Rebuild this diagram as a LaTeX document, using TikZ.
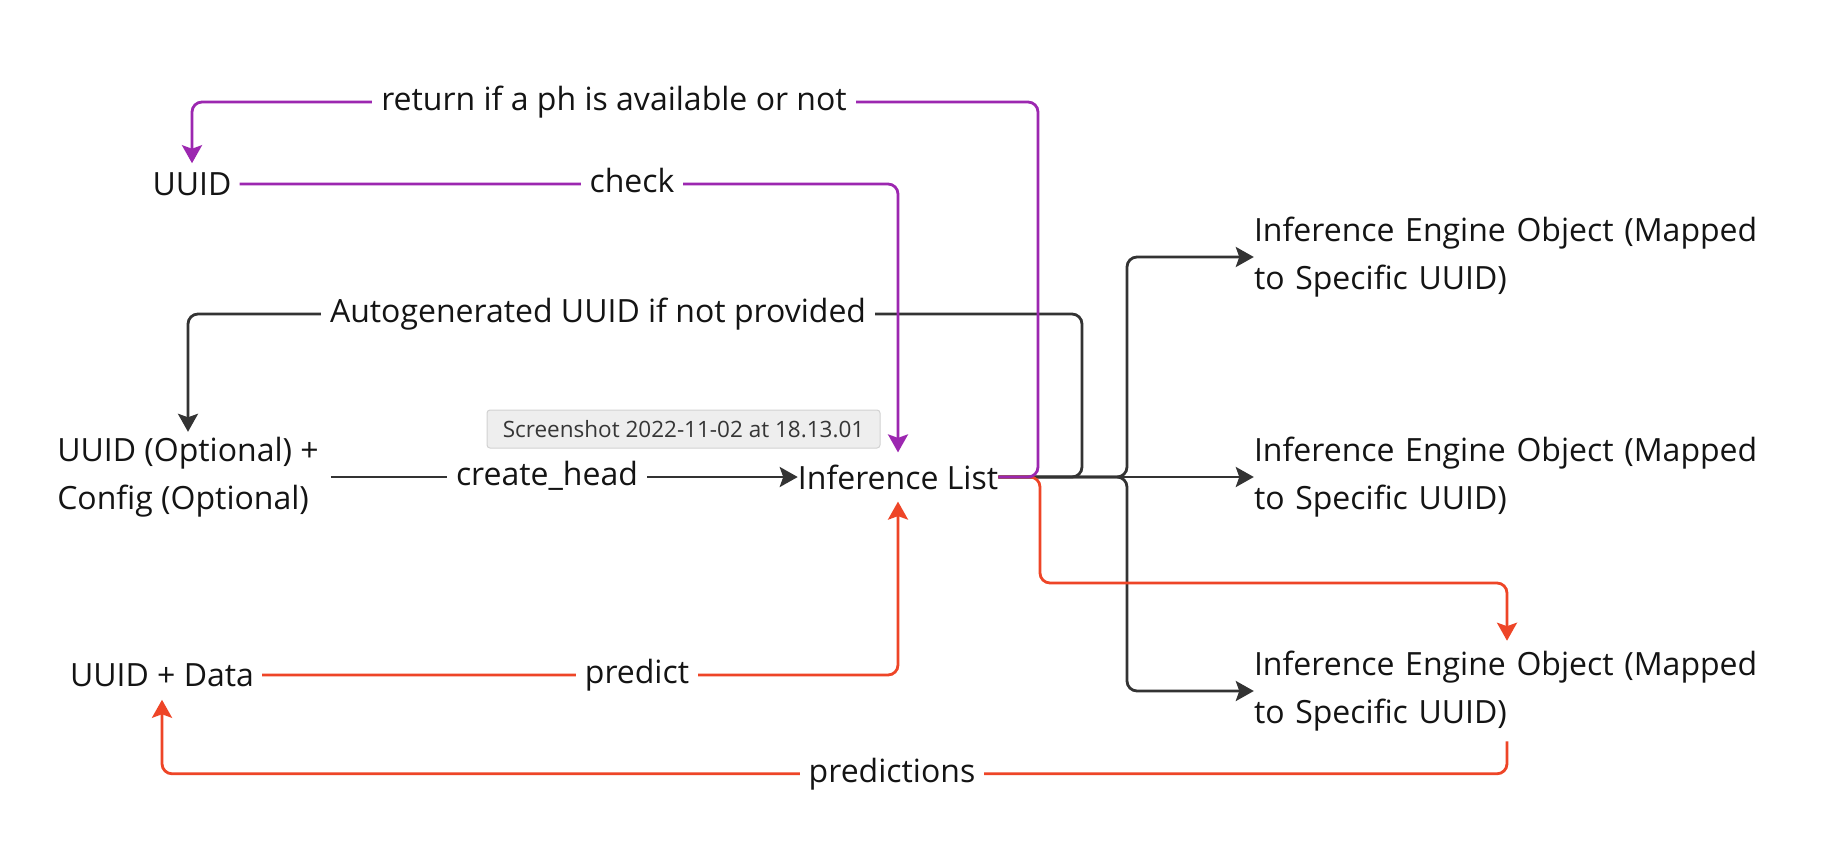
\documentclass[tikz,border=0pt]{standalone}
\usepackage{fontspec}
\setmainfont{Open Sans}
\usetikzlibrary{arrows.meta,calc}
\definecolor{purp}{HTML}{9C27B0}
\definecolor{redo}{HTML}{EE4527}
\definecolor{dark}{HTML}{333333}
\definecolor{txtc}{HTML}{141414}
\definecolor{tipfill}{HTML}{EEEEEE}
\definecolor{tipdraw}{HTML}{D2D2D2}
\definecolor{tiptext}{HTML}{363636}
\begin{document}
\begin{tikzpicture}[x=1pt,y=-1pt,
  every node/.style={font=\fontsize{32}{48}\selectfont, text=txtc},
  lbl/.style={fill=white, inner xsep=9pt, inner ysep=1pt, text height=24pt, text depth=8pt},
  conn/.style={line width=2.8pt, rounded corners=10pt, -{Stealth[length=18pt,width=20pt,inset=3.5pt]}},
  engine/.style={text width=506pt, align=left, inner xsep=0pt, inner ysep=10pt},
  tipbox/.style={font=\fontsize{22.5}{26}\selectfont, text=tiptext, fill=tipfill, draw=tipdraw, line width=1pt,
    rounded corners=3pt, minimum width=393pt, minimum height=38pt, inner sep=0pt}
]
\useasboundingbox (0,0) rectangle (1824,852);
\fill[white] (0,0) rectangle (1824,852);

% nodes
\node[inner xsep=8pt, inner ysep=9pt] (uuid) at (192,184) {UUID};
\node[inner xsep=12pt, inner ysep=5pt, align=left] (cfg) at (188,477) {UUID (Optional) +\\Config (Optional)};
\node[inner xsep=0pt, inner ysep=12pt] (il) at (898,477) {Inference List};
\node[inner xsep=8pt, inner ysep=13pt] (data) at (162,675) {UUID + Data};
\node[engine] (eng1) at (1507,257) {Inference Engine Object (Mapped to Specific UUID)};
\node[engine] (eng2) at (1507,477) {Inference Engine Object (Mapped to Specific UUID)};
\node[engine] (eng3) at (1507,691) {Inference Engine Object (Mapped to Specific UUID)};

% waypoints
\coordinate (agtop) at (1082,314);
\coordinate (brx) at (1127,477);
\coordinate (rtop) at (1038,102);
\coordinate (rdown) at (1040,583);

% black connectors
\draw[conn, dark] (il.east) -| (agtop) -| (cfg.north);
\draw[conn, dark] (cfg.east) -- (cfg.east -| il.west);
\draw[conn, dark] (il.east) -- (brx) |- (eng1.west);
\draw[conn, dark] (il.east) -- (eng2.west);
\draw[conn, dark] (il.east) -- (brx) |- (eng3.west);

% red connectors
\draw[conn, redo] (il.east) -| (rdown) -| (eng3.north);
\draw[conn, redo] (data.east) -| (il.south);
\draw[conn, redo] (eng3.south) |- ($(data.south)+(0,74)$) -- (data.south);

% purple connectors
\draw[conn, purp] (uuid.east) -| (il.north);
\draw[conn, purp] (il.east) -| (rtop) -| (uuid.north);

% labels
\node[lbl] (lret) at (614,102) {return if a ph is available or not};
\node[lbl] (lchk) at (632,184) {check};
\node[lbl] (lauto) at (598,314) {Autogenerated UUID if not provided};
\node[lbl] (lcreate) at (547,477) {create\_head};
\node[lbl] (lpred) at (637,675) {predict};
\node[lbl] (lpreds) at (892,774) {predictions};

% tooltip
\node[tipbox] (shot) at (683.5,429) {Screenshot 2022-11-02 at 18.13.01};
\end{tikzpicture}
\end{document}
